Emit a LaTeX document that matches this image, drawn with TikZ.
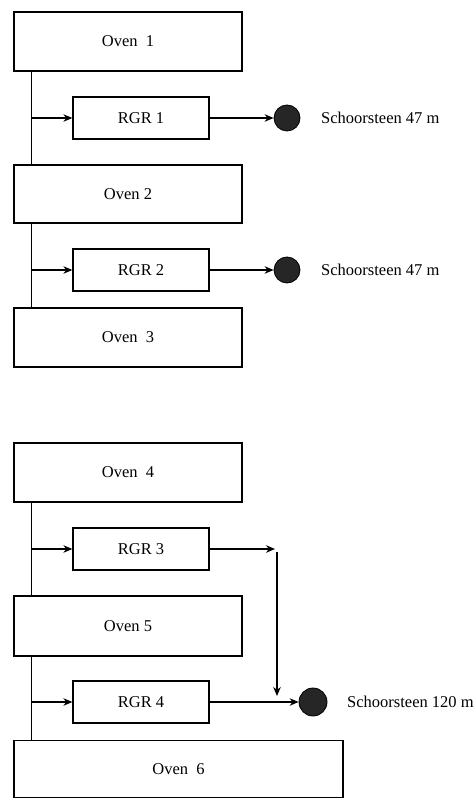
\documentclass[tikz,border=0pt]{standalone}
\usepackage{fontspec}
\setmainfont{Liberation Serif}
\usetikzlibrary{arrows.meta}
\begin{document}
\begin{tikzpicture}[x=1pt,y=-1pt,
  box/.style={draw=black,line width=1.3pt,inner sep=0pt,font=\fontsize{16.5}{19}\selectfont},
  oven/.style={box,minimum width=228pt,minimum height=59pt},
  rgr/.style={box,minimum width=136pt,minimum height=42pt},
  chim/.style={circle,fill=black!85,draw=black,line width=0.8pt,inner sep=0pt,minimum size=26pt},
  lbl/.style={anchor=west,inner sep=0pt,font=\fontsize{16.5}{19}\selectfont},
  conn/.style={line width=1.2pt},
  arr/.style={conn,-{Stealth[length=9pt,width=7.5pt]}}]
\useasboundingbox[fill=white] (0,0) rectangle (475,799);
% ovens
\node[oven] (o1) at (128,41.5) {Oven~~1};
\node[oven,minimum height=58pt] (o2) at (128,194) {Oven 2};
\node[oven] (o3) at (128,337.5) {Oven~~3};
\node[oven] (o4) at (128,472.5) {Oven~~4};
\node[oven,minimum height=60pt] (o5) at (128,626) {Oven 5};
\node[oven,minimum width=329pt,minimum height=57pt] (o6) at (178.5,769) {Oven~~6};
% regenerators
\node[rgr] (r1) at (141,118) {RGR 1};
\node[rgr] (r2) at (141,270) {RGR 2};
\node[rgr] (r3) at (141,549) {RGR 3};
\node[rgr] (r4) at (141,702) {RGR 4};
% chimneys
\node[chim] (c1) at (287,118) {};
\node[chim] (c2) at (287,270) {};
\node[chim,minimum size=28pt] (c3) at (313,702) {};
\node[lbl] (t1) at (321,118) {Schoorsteen 47 m};
\node[lbl] (t2) at (321,270) {Schoorsteen 47 m};
\node[lbl] (t3) at (347,702) {Schoorsteen 120 m};
% collector lines
\coordinate (v1) at ([xshift=18pt]o1.south west);
\coordinate (v2) at ([xshift=18pt]o2.north west);
\coordinate (v3) at ([xshift=18pt]o2.south west);
\coordinate (v4) at ([xshift=18pt]o3.north west);
\coordinate (v5) at ([xshift=18pt]o4.south west);
\coordinate (v6) at ([xshift=18pt]o5.north west);
\coordinate (v7) at ([xshift=18pt]o5.south west);
\coordinate (v8) at ([xshift=18pt]o6.north west);
\draw[conn] (v1) -- (v2);
\draw[conn] (v3) -- (v4);
\draw[conn] (v5) -- (v6);
\draw[conn] (v7) -- (v8);
\draw[arr] (v1 |- r1) -- (r1.west);
\draw[arr] (v3 |- r2) -- (r2.west);
\draw[arr] (v5 |- r3) -- (r3.west);
\draw[arr] (v7 |- r4) -- (r4.west);
% to chimneys
\draw[arr] (r1.east) -- (c1.west);
\draw[arr] (r2.east) -- (c2.west);
\draw[arr] (r4.east) -- (c3.west);
\coordinate (ja) at (275,549);
\coordinate (jb) at (277,552);
\coordinate (jc) at (277,696);
\draw[arr] (r3.east) -- (ja);
\draw[arr] (jb) -- (jc);
\end{tikzpicture}
\end{document}
